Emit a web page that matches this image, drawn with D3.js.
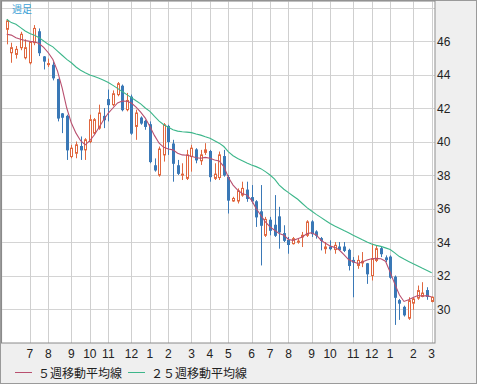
<!DOCTYPE html>
<html>
<head>
<meta charset="utf-8">
<script src="https://cdn.jsdelivr.net/npm/d3@7/dist/d3.min.js"></script>
<style>
body { margin: 0; background: #fff; }
svg { display: block; }
.tick-y, .tick-x { font-family: "Liberation Sans", Arial, sans-serif; font-size: 12px; fill: #222; }
.legend { font-family: "Noto Sans CJK JP", sans-serif; font-size: 12px; fill: #222; }
</style>
</head>
<body>
<svg id="chart" width="478" height="385"></svg>
<script>
// weekly candles, oldest first
var openV  = [46.7,45.3,45.2,45.6,45.0,44.7,45.9,46.55,45.05,44.6,44.55,43.7,41.65,41.5,39.1,39.3,39.7,39.5,40.0,40.5,
              40.8,41.5,42.5,42.2,42.8,43.3,41.9,42.65,40.9,41.4,41.2,41.0,38.55,38.0,39.2,40.9,39.85,38.55,38.0,37.8,
              39.1,39.5,38.85,39.35,39.4,37.8,37.85,39.1,37.85,36.45,36.45,36.8,37.1,36.65,36.4,35.8,34.4,35.3,35.0,35.5,
              34.5,34.1,33.9,34.0,34.3,34.4,35.2,34.6,34.2,33.6,33.7,33.55,33.7,33.7,33.5,32.9,32.6,32.75,32.7,32.0,
              32.9,33.6,33.05,33.1,31.9,30.5,30.1,29.45,30.35,30.65,30.75,31.1,30.45];
var highV  = [47.3,45.9,45.7,46.55,46.1,46.0,46.95,46.75,45.1,44.95,44.75,43.75,41.7,41.6,39.8,40.0,40.3,40.2,41.6,41.4,
              42.2,42.0,43.1,43.05,43.55,43.4,42.9,42.8,41.9,41.5,41.3,41.2,38.99,39.7,41.1,41.0,40.1,38.9,38.7,39.5,
              39.8,39.6,39.5,39.9,39.5,38.7,39.4,39.5,38.0,36.7,37.2,37.6,37.6,37.4,36.5,37.4,35.5,35.5,36.8,36.1,
              35.0,34.3,34.3,34.2,34.6,35.3,35.3,34.7,34.3,34.0,34.1,34.0,34.0,34.0,33.6,33.1,33.2,33.4,32.75,33.9,
              33.8,33.7,33.2,33.2,32.0,30.6,30.2,30.7,30.7,31.4,31.6,31.3,30.75];
var lowV   = [45.8,44.7,44.95,45.45,44.9,44.6,45.75,45.1,44.3,44.45,43.65,41.2,40.5,38.9,39.0,39.0,38.9,38.9,39.9,40.4,
              40.7,40.8,41.2,42.1,42.7,41.8,41.8,40.4,40.1,41.0,40.7,38.7,38.2,37.9,38.8,39.2,37.6,38.0,37.7,37.7,
              38.2,38.7,38.6,39.2,37.6,37.7,37.7,37.9,35.7,36.4,36.3,36.7,36.4,36.3,34.9,32.6,34.3,34.4,34.3,33.6,
              34.0,33.3,33.85,33.9,33.7,34.3,34.3,34.2,33.5,33.3,33.5,33.3,33.5,33.4,32.3,30.7,32.4,32.5,31.5,31.7,
              32.8,33.1,32.8,31.8,29.05,29.35,29.55,29.35,29.95,30.55,30.7,30.55,30.4];
var closeV = [47.2,45.6,45.5,46.4,45.6,45.95,46.75,45.3,44.8,44.65,43.8,41.4,41.45,39.5,39.6,39.8,39.5,40.1,41.3,41.3,
              41.7,41.3,42.2,42.85,43.45,41.9,42.45,40.5,41.7,41.1,40.9,38.8,38.3,39.55,41.0,40.0,38.7,38.1,38.05,39.2,
              39.6,38.9,39.2,39.5,37.9,38.05,39.2,38.0,36.5,36.6,37.05,37.2,36.6,36.45,35.5,35.0,35.35,34.7,34.4,34.6,
              34.1,33.85,34.2,34.05,34.4,35.2,34.5,34.4,34.1,33.7,33.6,33.8,33.55,33.5,32.6,32.8,32.9,32.85,32.1,33.0,
              33.6,33.3,32.95,31.9,30.7,30.35,29.65,30.5,30.6,31.1,30.95,30.75,30.7];

// moving averages
var ma5  = [46.4,46.35,46.2,46.1,46.03,45.98,45.95,45.85,45.62,45.3,44.9,44.2,43.2,42.0,41.1,40.5,40.05,39.8,40.05,40.4,
            40.85,41.3,41.7,42.0,42.3,42.42,42.4,42.3,42.05,41.75,41.4,40.9,40.35,39.9,39.65,39.55,39.5,39.3,39.2,39.18,
            39.12,39.03,39.0,39.05,39.0,38.9,38.84,38.5,37.85,37.4,37.1,36.9,36.8,36.5,36.0,35.6,35.2,34.9,34.7,34.5,
            34.4,34.15,34.1,34.2,34.3,34.5,34.55,34.42,34.12,33.92,33.76,33.68,33.52,33.25,32.95,32.82,32.72,32.8,32.92,33.0,
            33.02,33.0,32.85,32.2,31.5,30.85,30.45,30.55,30.68,30.8,30.78,30.8,30.72];
var ma25 = [47.3,47.1,47.0,46.8,46.6,46.45,46.35,46.2,46.0,45.8,45.65,45.4,45.15,44.9,44.7,44.45,44.25,44.1,43.97,43.88,
            43.78,43.65,43.52,43.35,43.17,42.98,42.8,42.62,42.43,42.25,42.0,41.8,41.5,41.22,41.0,40.85,40.7,40.62,40.58,40.56,
            40.53,40.45,40.38,40.28,40.19,40.05,39.9,39.7,39.38,39.15,38.98,38.85,38.72,38.6,38.5,38.38,38.2,38.0,37.75,37.4,
            37.15,36.95,36.75,36.55,36.3,36.05,35.85,35.65,35.47,35.28,35.1,34.95,34.82,34.68,34.55,34.4,34.27,34.13,34.0,33.88,
            33.8,33.74,33.65,33.55,33.35,33.13,32.98,32.84,32.7,32.57,32.43,32.3,32.17];

// first week of each month
var monthIdx    = [5,9,14,18,22,27,31,35,40,44,48,53,57,61,66,70,75,79,83,88,92];
var monthLabels = ['7','8','9','10','11','12','1','2','3','4','5','6','7','8','9','10','11','12','1','2','3'];
var priceTicks  = [30,32,34,36,38,40,42,44,46];
var gridPrices  = [30,32,34,36,38,40,42,44,46,48];
var legendNames = ['５週移動平均線', '２５週移動平均線'];

var W = 478, H = 385;
var plot = {l: 2, t: 1.5, r: 435, b: 343};
var upColor = '#e0673f', downColor = '#3a78b6', ma5Color = '#b9506f', ma25Color = '#3cb68a';

var svg = d3.select('#chart');

// outer frame
svg.append('rect').attr('x', 0.5).attr('y', 0.5).attr('width', 476).attr('height', 383)
   .attr('fill', '#efefef').attr('stroke', '#9a9a9a');
svg.append('rect').attr('x', plot.l + 0.5).attr('y', plot.t).attr('width', plot.r - plot.l).attr('height', plot.b - plot.t)
   .attr('fill', '#fff');

var x = d3.scaleLinear().domain([0, 92]).range([6.7, 431.7]);
var y = d3.scaleLinear().domain([30, 46]).range([309, 41]);
var px = function(v){ return Math.round(v) + 0.5; };

var grid = svg.append('g');
grid.selectAll('.hg').data(gridPrices).enter().append('line')
    .attr('x1', plot.l).attr('x2', plot.r)
    .attr('y1', function(d){ return px(y(d)); }).attr('y2', function(d){ return px(y(d)); })
    .attr('stroke', '#d4d4d4');
grid.selectAll('.vg').data(monthIdx).enter().append('line')
    .attr('y1', plot.t).attr('y2', plot.b)
    .attr('x1', function(d){ return px(x(d)); }).attr('x2', function(d){ return px(x(d)); })
    .attr('stroke', '#cfcfcf');

// candles
var data = openV.map(function(o, i){
	return {i: i, o: o, h: highV[i], l: lowV[i], c: closeV[i]};
});
var cg = svg.append('g');
var candle = cg.selectAll('g').data(data).enter().append('g');
candle.append('line')
      .attr('x1', function(d){ return px(x(d.i)); }).attr('x2', function(d){ return px(x(d.i)); })
      .attr('y1', function(d){ return y(d.h); }).attr('y2', function(d){ return y(d.l); })
      .attr('stroke', function(d){ return d.c >= d.o ? upColor : downColor; });
candle.append('rect')
      .attr('x', function(d){ return px(x(d.i)) - 1; })
      .attr('width', 2)
      .attr('y', function(d){ return y(Math.max(d.o, d.c)); })
      .attr('height', function(d){ return Math.max(1, Math.abs(y(d.o) - y(d.c))); })
      .attr('fill', function(d){ return d.c >= d.o ? '#fff' : downColor; })
      .attr('stroke', function(d){ return d.c >= d.o ? upColor : downColor; });

// moving averages
var line = d3.line().x(function(d, i){ return x(i); }).y(function(d){ return y(d); });
svg.append('path').datum(ma25).attr('d', line).attr('fill', 'none').attr('stroke', ma25Color).attr('stroke-width', 1.1);
svg.append('path').datum(ma5).attr('d', line).attr('fill', 'none').attr('stroke', ma5Color).attr('stroke-width', 1.1);

// plot border
svg.append('rect').attr('x', plot.l - 0.5).attr('y', plot.t - 0.5).attr('width', plot.r - plot.l + 0.5).attr('height', plot.b - plot.t + 0.5)
   .attr('fill', 'none').attr('stroke', '#8a8a8a');

svg.append('text').attr('x', 12).attr('y', 13).text('週足')
   .style('font-family', '"Noto Sans CJK JP", sans-serif').style('font-size', '10px').attr('fill', '#3c9fd6');

// axes labels
svg.selectAll('.tick-y').data(priceTicks).enter().append('text')
   .attr('class', 'tick-y').attr('x', 437).attr('y', function(d){ return y(d) + 4.5; })
   .text(function(d){ return d; });
svg.selectAll('.tick-x').data(monthIdx).enter().append('text')
   .attr('class', 'tick-x').attr('text-anchor', 'middle')
   .attr('x', function(d){ return x(d); }).attr('y', 358)
   .text(function(d, i){ return monthLabels[i]; });

// legend
var lg = svg.append('g').attr('transform', 'translate(0,373)');
[[15, ma5Color], [128, ma25Color]].forEach(function(p, k){
	lg.append('line').attr('x1', p[0]).attr('x2', p[0] + 17).attr('y1', -0.5).attr('y2', -0.5).attr('stroke', p[1]);
	lg.append('text').attr('class', 'legend').attr('x', p[0] + 23).attr('y', 4.5).text(legendNames[k]);
});
</script>
</body>
</html>
